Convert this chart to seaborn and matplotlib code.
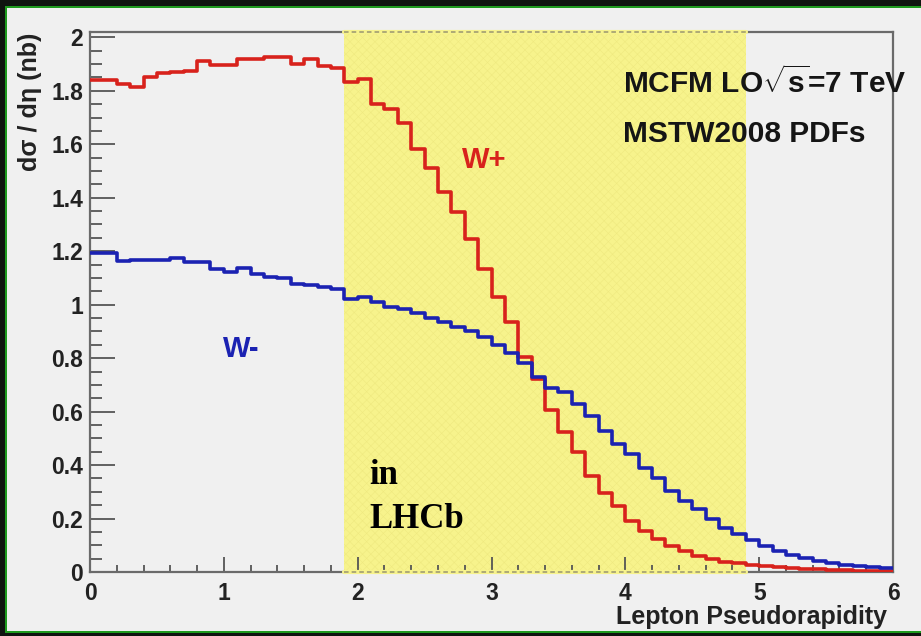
import numpy as np
import pandas as pd
import matplotlib
matplotlib.use("Agg")
import matplotlib.pyplot as plt
from matplotlib.patches import Rectangle
from matplotlib.ticker import MultipleLocator
import seaborn as sns

# Bin edges of the lepton pseudorapidity histogram (60 bins of width 0.1)
eta_edges = np.round(np.arange(61) * 0.1, 1)

# dsigma/deta (nb) per bin
w_plus = [1.840, 1.840, 1.825, 1.815, 1.850, 1.868, 1.870, 1.875, 1.913, 1.898,
          1.898, 1.918, 1.920, 1.926, 1.926, 1.902, 1.920, 1.893, 1.886, 1.834,
          1.846, 1.749, 1.731, 1.681, 1.582, 1.513, 1.420, 1.346, 1.246, 1.135,
          1.029, 0.936, 0.804, 0.723, 0.607, 0.523, 0.449, 0.359, 0.297, 0.247,
          0.191, 0.154, 0.123, 0.098, 0.080, 0.061, 0.048, 0.038, 0.032, 0.027,
          0.022, 0.018, 0.015, 0.012, 0.010, 0.008, 0.006, 0.005, 0.004, 0.003]
w_minus = [1.192, 1.192, 1.164, 1.166, 1.167, 1.167, 1.176, 1.158, 1.158, 1.133,
           1.124, 1.139, 1.114, 1.103, 1.101, 1.079, 1.073, 1.066, 1.057, 1.021,
           1.027, 1.011, 0.993, 0.982, 0.970, 0.949, 0.936, 0.916, 0.903, 0.878,
           0.850, 0.820, 0.783, 0.730, 0.690, 0.672, 0.628, 0.582, 0.526, 0.480,
           0.442, 0.390, 0.353, 0.303, 0.266, 0.236, 0.197, 0.166, 0.142, 0.120,
           0.098, 0.079, 0.063, 0.051, 0.042, 0.033, 0.026, 0.021, 0.017, 0.014]

x_ticks = [0, 1, 2, 3, 4, 5, 6]
x_tick_labels = ["0", "1", "2", "3", "4", "5", "6"]
y_ticks = [0, 0.2, 0.4, 0.6, 0.8, 1.0, 1.2, 1.4, 1.6, 1.8, 2.0]
y_tick_labels = ["0", "0.2", "0.4", "0.6", "0.8", "1", "1.2", "1.4", "1.6", "1.8", "2"]

# LHCb acceptance window
lhcb_range = (1.9, 4.9)

sns.set_theme(style="ticks")
plt.rcParams["font.family"] = ["Liberation Sans", "DejaVu Sans"]
plt.rcParams["mathtext.fontset"] = "custom"
plt.rcParams["mathtext.rm"] = "Liberation Sans:bold"
plt.rcParams["mathtext.it"] = "Liberation Sans:bold"
plt.rcParams["mathtext.bf"] = "Liberation Sans:bold"
plt.rcParams["hatch.linewidth"] = 0.4

W, H = 921, 636
bg = "#f0f0f0"
fig = plt.figure(figsize=(W / 100, H / 100), dpi=100, facecolor=bg)
ax = fig.add_axes([90 / W, 1 - 572 / H, (893 - 90) / W, (572 - 32) / H])
ax.set_facecolor(bg)

ymax = 2.02
ax.set_xlim(0, 6)
ax.set_ylim(0, ymax)

# Acceptance band
ax.axvspan(*lhcb_range, facecolor="#f7f38c", edgecolor="#efe980", hatch="xxxx",
           lw=0, zorder=0.5)
for yy in (ymax, 0):
    ax.plot(lhcb_range, [yy, yy], color="#f7f38c", lw=3, clip_on=False, zorder=3)
    ax.plot(lhcb_range, [yy, yy], color="#9a9670", lw=1.1, ls=(0, (3, 2)),
            clip_on=False, zorder=3.1)


def step_frame(vals, name):
    return pd.DataFrame({"eta": eta_edges,
                         "xsec": list(vals) + [vals[-1]],
                         "charge": name})


df = pd.concat([step_frame(w_plus, "W+"), step_frame(w_minus, "W-")],
               ignore_index=True)
sns.lineplot(data=df, x="eta", y="xsec", hue="charge",
             palette={"W+": "#d8221c", "W-": "#1b22b2"},
             drawstyle="steps-post", lw=2.6, legend=False,
             estimator=None, sort=False, ax=ax, zorder=4)

# Axes styling
for side in ["left", "bottom", "top", "right"]:
    ax.spines[side].set_visible(True)
    ax.spines[side].set_color("#6a6a6a")
    ax.spines[side].set_linewidth(1.6)

ax.set_xticks(x_ticks)
ax.set_xticklabels(x_tick_labels)
ax.set_yticks(y_ticks)
ax.set_yticklabels(y_tick_labels)
ax.xaxis.set_minor_locator(MultipleLocator(0.2))
ax.yaxis.set_minor_locator(MultipleLocator(0.05))
ax.tick_params(axis="y", which="major", direction="in", length=18, width=1.3,
               color="#555555", pad=5, labelsize=16.5)
ax.tick_params(axis="y", which="minor", direction="in", length=8.5, width=1.3,
               color="#555555")
ax.tick_params(axis="x", which="major", direction="in", length=10.5, width=1.3,
               color="#555555", pad=7, labelsize=16.5)
ax.tick_params(axis="x", which="minor", direction="in", length=5, width=1.3,
               color="#555555")
for lab in ax.get_xticklabels() + ax.get_yticklabels():
    lab.set_fontweight("bold")
    lab.set_color("#222222")
ax.set_xlabel("")
ax.set_ylabel("")

# Axis titles
fig.text(30 / W, 1 - 33 / H, "d\u03c3 / d\u03b7 (nb)", rotation=90, ha="center",
         va="top", fontsize=18, fontweight="bold", color="#222222")
fig.text(887 / W, 1 - 617 / H, "Lepton Pseudorapidity", ha="right",
         va="center", fontsize=18, fontweight="bold", color="#222222")

# Annotations
ax.text(3.98, 1.83, r"MCFM LO$\sqrt{s}$=7 TeV", ha="left", va="center",
        fontsize=21.5, fontweight="bold", color="#151515", zorder=5)
ax.text(3.98, 1.64, "MSTW2008 PDFs", ha="left", va="center",
        fontsize=21.5, fontweight="bold", color="#151515", zorder=5)
ax.text(2.78, 1.54, "W+", ha="left", va="center", fontsize=21,
        fontweight="bold", color="#d8221c", zorder=5)
ax.text(0.99, 0.835, "W-", ha="left", va="center", fontsize=21,
        fontweight="bold", color="#1b22b2", zorder=5)
ax.text(2.09, 0.36, "in", ha="left", va="center", fontsize=25,
        fontweight="bold", family="Liberation Serif", color="black", zorder=5)
ax.text(2.09, 0.195, "LHCb", ha="left", va="center", fontsize=25,
        fontweight="bold", family="Liberation Serif", color="black", zorder=5)

# Canvas frame
frame_dark = "#101410"
frame_green = "#1f9a1f"
fig.add_artist(Rectangle((0, 1 - 6 / H), 1, 6 / H, transform=fig.transFigure,
                         color=frame_dark, lw=0))
fig.add_artist(Rectangle((0, 0), 5 / W, 1, transform=fig.transFigure,
                         color=frame_dark, lw=0))
fig.add_artist(Rectangle((0, 0), 1, 3 / H, transform=fig.transFigure,
                         color=frame_dark, lw=0))
fig.add_artist(Rectangle((5 / W, 1 - 8 / H), 1 - 5 / W, 2 / H,
                         transform=fig.transFigure, color=frame_green, lw=0))
fig.add_artist(Rectangle((5 / W, 3 / H), 2 / W, 1 - 11 / H,
                         transform=fig.transFigure, color=frame_green, lw=0))
fig.add_artist(Rectangle((5 / W, 3 / H), 1 - 5 / W, 2 / H,
                         transform=fig.transFigure, color=frame_green, lw=0))

fig.savefig("out.png", dpi=100, facecolor=bg)
